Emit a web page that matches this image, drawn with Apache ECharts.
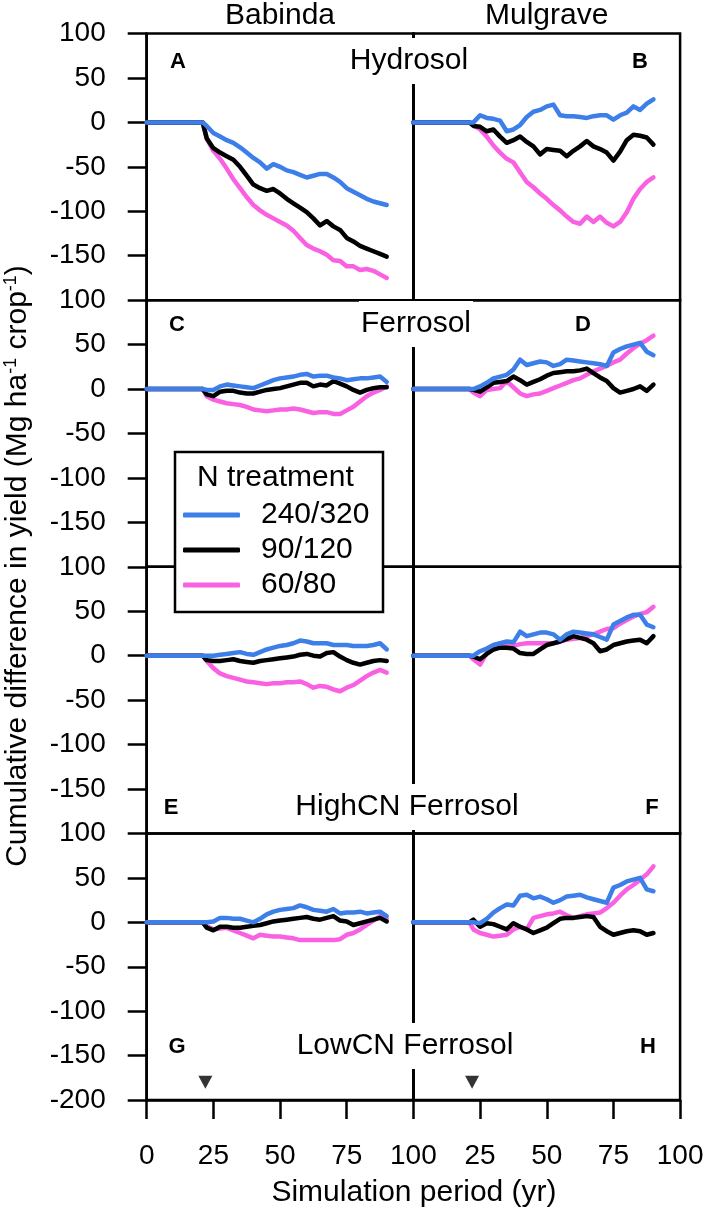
<!DOCTYPE html>
<html><head><meta charset="utf-8">
<script src="https://cdn.jsdelivr.net/npm/echarts/dist/echarts.min.js"></script>
<style>html,body{margin:0;padding:0;background:#fff}#c{width:708px;height:1215px}</style>
</head><body><div id="c"></div>
<script>
// ---------------- data ----------------
const years = [0,21,22.5,25,27.5,30,32.5,35,37.5,40,42.5,45,47.5,50,52.5,55,57.5,60,62.5,65,67.5,70,72.5,75,77.5,80,82.5,85,87.5,90];
const treatments = ['240/320','90/120','60/80'];
const sites = ['Babinda','Mulgrave'];
const soils = ['Hydrosol','Ferrosol','HighCN Ferrosol','LowCN Ferrosol'];
const panelLetters = ['A','B','C','D','E','F','G','H'];
const xTicks = [0,25,50,75,100];
const yTicks = [-200,-150,-100,-50,0,50,100];
const markerYear = [22];
const markerValue = [-180];

// A: Babinda Hydrosol
const A_240 = [0,0,-4,-12,-16,-20,-23,-28,-34,-40,-45,-52,-47,-50,-54,-56,-59,-62,-60,-58,-58,-62,-67,-74,-78,-82,-86,-89,-91,-93];
const A_90  = [0,0,-18,-29,-34,-38,-42,-50,-60,-70,-74,-77,-75,-80,-86,-91,-96,-101,-108,-116,-111,-117,-121,-130,-134,-139,-142,-145,-148,-151];
const A_60  = [0,0,-18,-32,-41,-52,-64,-74,-84,-93,-99,-104,-108,-112,-116,-122,-130,-138,-142,-145,-149,-155,-156,-162,-162,-166,-165,-167,-171,-175];
// B: Mulgrave Hydrosol
const B_240 = [0,0,0,8,5,4,2,-10,-8,-3,6,12,14,18,20,8,7,7,6,5,7,8,8,3,8,11,18,14,21,26];
const B_90  = [0,0,-4,-5,-10,-8,-16,-23,-20,-16,-22,-27,-36,-30,-31,-32,-38,-32,-27,-21,-27,-30,-34,-43,-33,-20,-14,-15,-17,-25];
const B_60  = [0,0,-3,-8,-16,-26,-34,-41,-45,-56,-67,-73,-80,-86,-93,-99,-106,-112,-114,-106,-112,-106,-113,-117,-112,-101,-86,-75,-67,-62];
// C: Babinda Ferrosol
const C_240 = [0,0,-1,-1,3,5,4,3,2,1,4,7,10,12,13,14,16,17,14,15,15,13,12,10,11,12,12,13,14,8];
const C_90  = [0,0,-6,-8,-3,-2,-2,-4,-5,-5,-3,-1,0,1,3,5,7,7,3,5,4,9,6,3,-1,-4,-1,1,2,2];
const C_60  = [0,0,-8,-12,-14,-16,-17,-18,-20,-23,-24,-25,-24,-23,-23,-22,-23,-25,-27,-26,-26,-28,-28,-24,-20,-14,-8,-4,-1,3];
// D: Mulgrave Ferrosol
const D_240 = [0,0,0,3,7,12,14,16,22,33,27,29,31,30,26,28,33,32,31,30,29,28,26,41,45,48,50,52,42,38];
const D_90  = [0,0,-1,-3,2,7,8,9,14,10,5,8,11,15,18,19,20,20,21,23,18,13,9,1,-4,-2,0,3,-2,5];
const D_60  = [0,0,-4,-8,-1,0,1,9,2,-5,-8,-6,-5,-2,1,4,7,10,12,16,20,23,26,30,33,40,46,51,55,60];
// E: Babinda HighCN Ferrosol
const E_240 = [0,0,0,0,1,2,3,4,2,1,4,7,9,11,12,14,17,16,14,14,14,12,12,12,11,11,11,12,14,7];
const E_90  = [0,0,-5,-6,-6,-5,-4,-6,-7,-8,-6,-5,-4,-3,-2,-1,1,2,0,-1,3,4,-1,-5,-8,-10,-8,-6,-5,-6];
const E_60  = [0,0,-6,-14,-20,-23,-25,-27,-29,-30,-31,-32,-31,-31,-30,-30,-29,-32,-36,-34,-35,-38,-40,-36,-33,-28,-23,-19,-16,-19];
// F: Mulgrave HighCN Ferrosol
const F_240 = [0,0,0,5,8,12,14,16,15,27,22,24,26,26,24,18,24,27,26,25,24,21,18,35,39,43,46,46,35,32];
const F_90  = [0,0,-1,-4,2,7,9,9,8,3,2,2,7,12,14,16,19,22,20,18,14,5,7,12,14,16,17,18,14,22];
const F_60  = [0,0,-4,-10,3,7,11,11,11,13,14,14,14,14,14,16,18,19,20,22,24,27,30,31,36,40,44,47,49,55];
// G: Babinda LowCN Ferrosol
const G_240 = [0,0,0,1,5,5,4,4,2,0,4,9,12,14,15,16,19,17,14,13,12,15,10,11,11,12,10,11,12,7];
const G_90  = [0,0,-6,-9,-5,-5,-6,-6,-5,-4,-3,-1,1,2,3,4,5,6,4,3,5,7,2,1,-3,-1,1,3,5,1];
const G_60  = [0,0,-4,-8,-7,-6,-9,-12,-15,-18,-14,-15,-16,-16,-17,-18,-20,-20,-20,-20,-20,-20,-19,-14,-12,-8,-3,2,7,4];
// H: Mulgrave LowCN Ferrosol
const H_240 = [0,0,0,-1,4,11,16,20,19,30,31,27,29,26,22,25,29,30,31,28,26,24,22,39,42,46,48,50,37,35];
const H_90  = [0,0,3,-5,-1,-2,-5,-8,-1,-5,-8,-12,-9,-6,-1,4,5,5,6,7,6,-5,-10,-14,-12,-10,-9,-10,-14,-12];
const H_60  = [0,0,-8,-12,-14,-16,-15,-14,-8,-5,-8,5,7,9,10,12,8,5,7,9,10,11,16,22,30,37,42,48,54,63];

// ---------------- build ----------------
const panels = [
  [A_240, A_90, A_60], [B_240, B_90, B_60],
  [C_240, C_90, C_60], [D_240, D_90, D_60],
  [E_240, E_90, E_60], [F_240, F_90, F_60],
  [G_240, G_90, G_60], [H_240, H_90, H_60]
];
const colors = ['#3d7fe8', '#000000', '#f961e2'];
const FONT = "'Liberation Sans', Arial, sans-serif";
const L0 = 146.7, PW = 266.7, T0 = 33.5, PH = 266.65;
const LW = 2.5;

const grids = [], xAxes = [], yAxes = [], series = [];
for (let r = 0; r < 4; r++) {
  for (let c = 0; c < 2; c++) {
    const idx = r * 2 + c;
    const bottom = r === 3;
    grids.push({left: L0 + c * PW, top: T0 + r * PH, width: PW, height: PH,
      show: true, borderColor: '#000', borderWidth: LW, backgroundColor: 'transparent',
      containLabel: false, outerBoundsMode: 'none'});
    xAxes.push({type: 'value', gridIndex: idx, min: 0, max: 100, interval: 25,
      axisLine: {show: bottom, onZero: false, lineStyle: {color: '#000', width: LW}},
      axisTick: {show: bottom, inside: false, length: 19, lineStyle: {color: '#000', width: LW}},
      axisLabel: {show: bottom, margin: 42, color: '#000', fontSize: 28, fontFamily: FONT,
        formatter: v => (c === 1 && v === 0) ? '' : String(v)},
      splitLine: {show: false}});
    yAxes.push({type: 'value', gridIndex: idx, min: -200, max: 100, interval: 50,
      axisLine: {show: true, onZero: false, lineStyle: {color: '#000', width: LW}},
      axisTick: {show: c === 0, inside: false, length: 19, lineStyle: {color: '#000', width: LW}},
      axisLabel: {show: c === 0, margin: 41, color: '#000', fontSize: 28, fontFamily: FONT,
        formatter: v => (!bottom && v === -200) ? '' : String(v)},
      splitLine: {show: false}});
    // draw pink, black, then blue on top
    [2, 1, 0].forEach(t => {
      series.push({type: 'line', name: treatments[t], xAxisIndex: idx, yAxisIndex: idx,
        data: years.map((y, i) => [y, panels[idx][t][i]]),
        showSymbol: false, symbol: 'none', smooth: false, z: 2 + (2 - t) * 0.1,
        color: colors[t],
        lineStyle: {color: colors[t], width: 4.5, join: 'round', cap: 'round'},
        emphasis: {disabled: true}, silent: true});
    });
    if (bottom) {
      series.push({type: 'scatter', xAxisIndex: idx, yAxisIndex: idx,
        data: markerYear.map((y, i) => [y, markerValue[i]]),
        symbol: 'triangle', symbolRotate: 180, symbolSize: [14, 13],
        itemStyle: {color: '#000'}, silent: true, z: 5});
    }
  }
}

const txt = (text, x, y, extra) => Object.assign({type: 'text', x, y, z: 100,
  style: Object.assign({text, fill: '#000', fontSize: 30, fontFamily: FONT,
    align: 'center', verticalAlign: 'middle'}, extra || {})});

const letterPos = [[178, 62], [640, 62], [177, 325], [583, 325], [171, 808], [652, 808], [177, 1047], [648, 1047]];
const soilPos = [[409, 61], [416, 324], [407, 807], [405, 1046]];

const graphics = [];
graphics.push(txt(sites[0], 280, 16));
graphics.push(txt(sites[1], 546.7, 16));
soils.forEach((s, i) => graphics.push(txt(s, soilPos[i][0], soilPos[i][1],
  {backgroundColor: '#fff', padding: [8, 2, 8, 2]})));
panelLetters.forEach((l, i) => graphics.push(txt(l, letterPos[i][0], letterPos[i][1],
  {fontSize: 22, fontWeight: 'bold'})));
graphics.push(txt('Simulation period (yr)', 414, 1193));
graphics.push({type: 'text', x: 18, y: 566, rotation: Math.PI / 2, z: 100,
  style: {text: 'Cumulative difference in yield (Mg ha{s|-1} crop{s|-1})',
    fill: '#000', fontSize: 30, fontFamily: FONT, align: 'center', verticalAlign: 'middle',
    lineHeight: 32,
    rich: {s: {fontSize: 18, fontFamily: FONT, fill: '#000', verticalAlign: 'top', lineHeight: 32}}}});
// legend box
graphics.push({type: 'rect', z: 3, shape: {x: 175, y: 452, width: 208, height: 160},
  style: {fill: '#fff', stroke: '#000', lineWidth: LW}});
graphics.push(txt('N treatment', 197, 478, {align: 'left'}));

const option = {
  animation: false,
  backgroundColor: '#fff',
  grid: grids, xAxis: xAxes, yAxis: yAxes, series,
  legend: {show: true, orient: 'vertical', left: 183, top: 500, z: 10, padding: 0,
    itemGap: 5, itemWidth: 57, itemHeight: 5, icon: 'roundRect', selectedMode: false,
    data: treatments.map((t, i) => ({name: t, itemStyle: {color: colors[i]}})),
    textStyle: {fontSize: 30, fontFamily: FONT, color: '#000', lineHeight: 30, padding: [0, 0, 0, 16]}},
  graphic: graphics
};
const chart = echarts.init(document.getElementById('c'), null, {renderer: 'canvas'});
chart.setOption(option);
</script></body></html>
